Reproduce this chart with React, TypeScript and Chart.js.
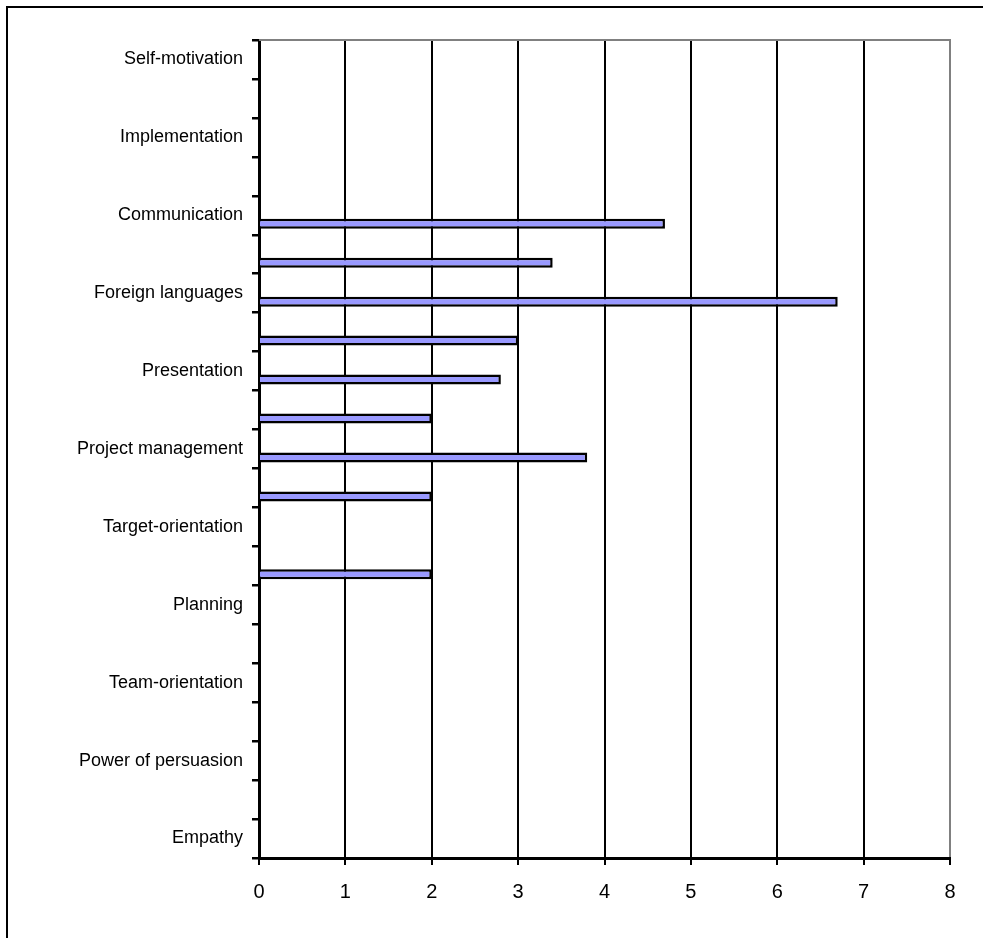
import { useEffect, useRef } from "react";
import { Chart, registerables } from "chart.js";

Chart.register(...registerables);

// Skill categories, top to bottom; unnamed rows are the skipped labels
const categories: string[] = [
  "Self-motivation",
  "",
  "Implementation",
  "",
  "Communication",
  "",
  "Foreign languages",
  "",
  "Presentation",
  "",
  "Project management",
  "",
  "Target-orientation",
  "",
  "Planning",
  "",
  "Team-orientation",
  "",
  "Power of persuasion",
  "",
  "Empathy",
];

// First series has no entries; second series holds the scores
const firstSeries: (number | null)[] = [
  null, null, null, null, null, null, null, null, null, null, null,
  null, null, null, null, null, null, null, null, null, null,
];

const scores: (number | null)[] = [
  null, null, null, null, 4.7, 3.4, 6.7, 3.0, 2.8, 2.0, 3.8,
  2.0, null, 2.0, null, null, null, null, null, null, null,
];

const xMin = 0;
const xMax = 8;
const xStep = 1;

const FONT = "'Liberation Sans', Arial, sans-serif";

// Grey top edge of the plot area
const plotFrame = {
  id: "plotFrame",
  beforeDatasetsDraw(chart: any) {
    const { ctx, chartArea: a } = chart;
    ctx.save();
    ctx.strokeStyle = "#808080";
    ctx.lineWidth = 2;
    ctx.beginPath();
    ctx.moveTo(a.left, Math.round(a.top));
    ctx.lineTo(a.right + 1, Math.round(a.top));
    ctx.stroke();
    ctx.restore();
  },
};

export default function App() {
  const canvasRef = useRef<HTMLCanvasElement | null>(null);

  useEffect(() => {
    const canvas = canvasRef.current;
    if (!canvas) return;
    const chart = new Chart(canvas, {
      type: "bar",
      data: {
        labels: categories,
        datasets: [
          {
            label: "Series 1",
            data: firstSeries,
            backgroundColor: "#9999FF",
            borderColor: "#000000",
            borderWidth: 2.5,
          },
          {
            label: "Series 2",
            data: scores,
            backgroundColor: "#9999FF",
            borderColor: "#000000",
            borderWidth: 2.5,
          },
        ],
      },
      options: {
        indexAxis: "y",
        responsive: false,
        animation: false,
        devicePixelRatio: 1,
        categoryPercentage: 0.87,
        barPercentage: 0.59,
        layout: { padding: { left: 8, top: 40, right: 33, bottom: 0 } },
        plugins: {
          legend: { display: false },
          tooltip: { enabled: false },
          title: { display: false },
        },
        scales: {
          x: {
            type: "linear",
            position: "bottom",
            min: xMin,
            max: xMax,
            ticks: {
              stepSize: xStep,
              color: "#000000",
              font: { family: FONT, size: 20 },
              padding: 15,
            },
            grid: {
              color: (c: any) => (c.tick && c.tick.value === xMax ? "#808080" : "#000000"),
              tickColor: "#000000",
              lineWidth: 2,
              tickLength: 7,
            },
            border: { color: "#000000", width: 3 },
            afterFit: (scale: any) => {
              scale.height = 80;
            },
          },
          y: {
            type: "category",
            position: "left",
            ticks: {
              autoSkip: false,
              color: "#000000",
              font: { family: FONT, size: 18 },
              padding: 9,
            },
            grid: {
              offset: true,
              drawOnChartArea: false,
              drawTicks: true,
              tickLength: 7,
              color: "#000000",
              lineWidth: 2.5,
            },
            border: { color: "#000000", width: 3 },
            afterFit: (scale: any) => {
              scale.width = 251;
            },
          },
        },
      },
      plugins: [plotFrame],
    });
    return () => chart.destroy();
  }, []);

  return (
    <div
      style={{
        position: "fixed",
        left: 0,
        top: 0,
        width: 983,
        height: 938,
        overflow: "hidden",
        background: "#ffffff",
      }}
    >
      <div
        style={{
          position: "absolute",
          left: 6,
          top: 6,
          width: 1100,
          height: 1100,
          border: "2.5px solid #000000",
          boxSizing: "border-box",
        }}
      />
      <canvas
        ref={canvasRef}
        width={983}
        height={938}
        style={{ position: "absolute", left: 0, top: 0, width: 983, height: 938 }}
      />
    </div>
  );
}
